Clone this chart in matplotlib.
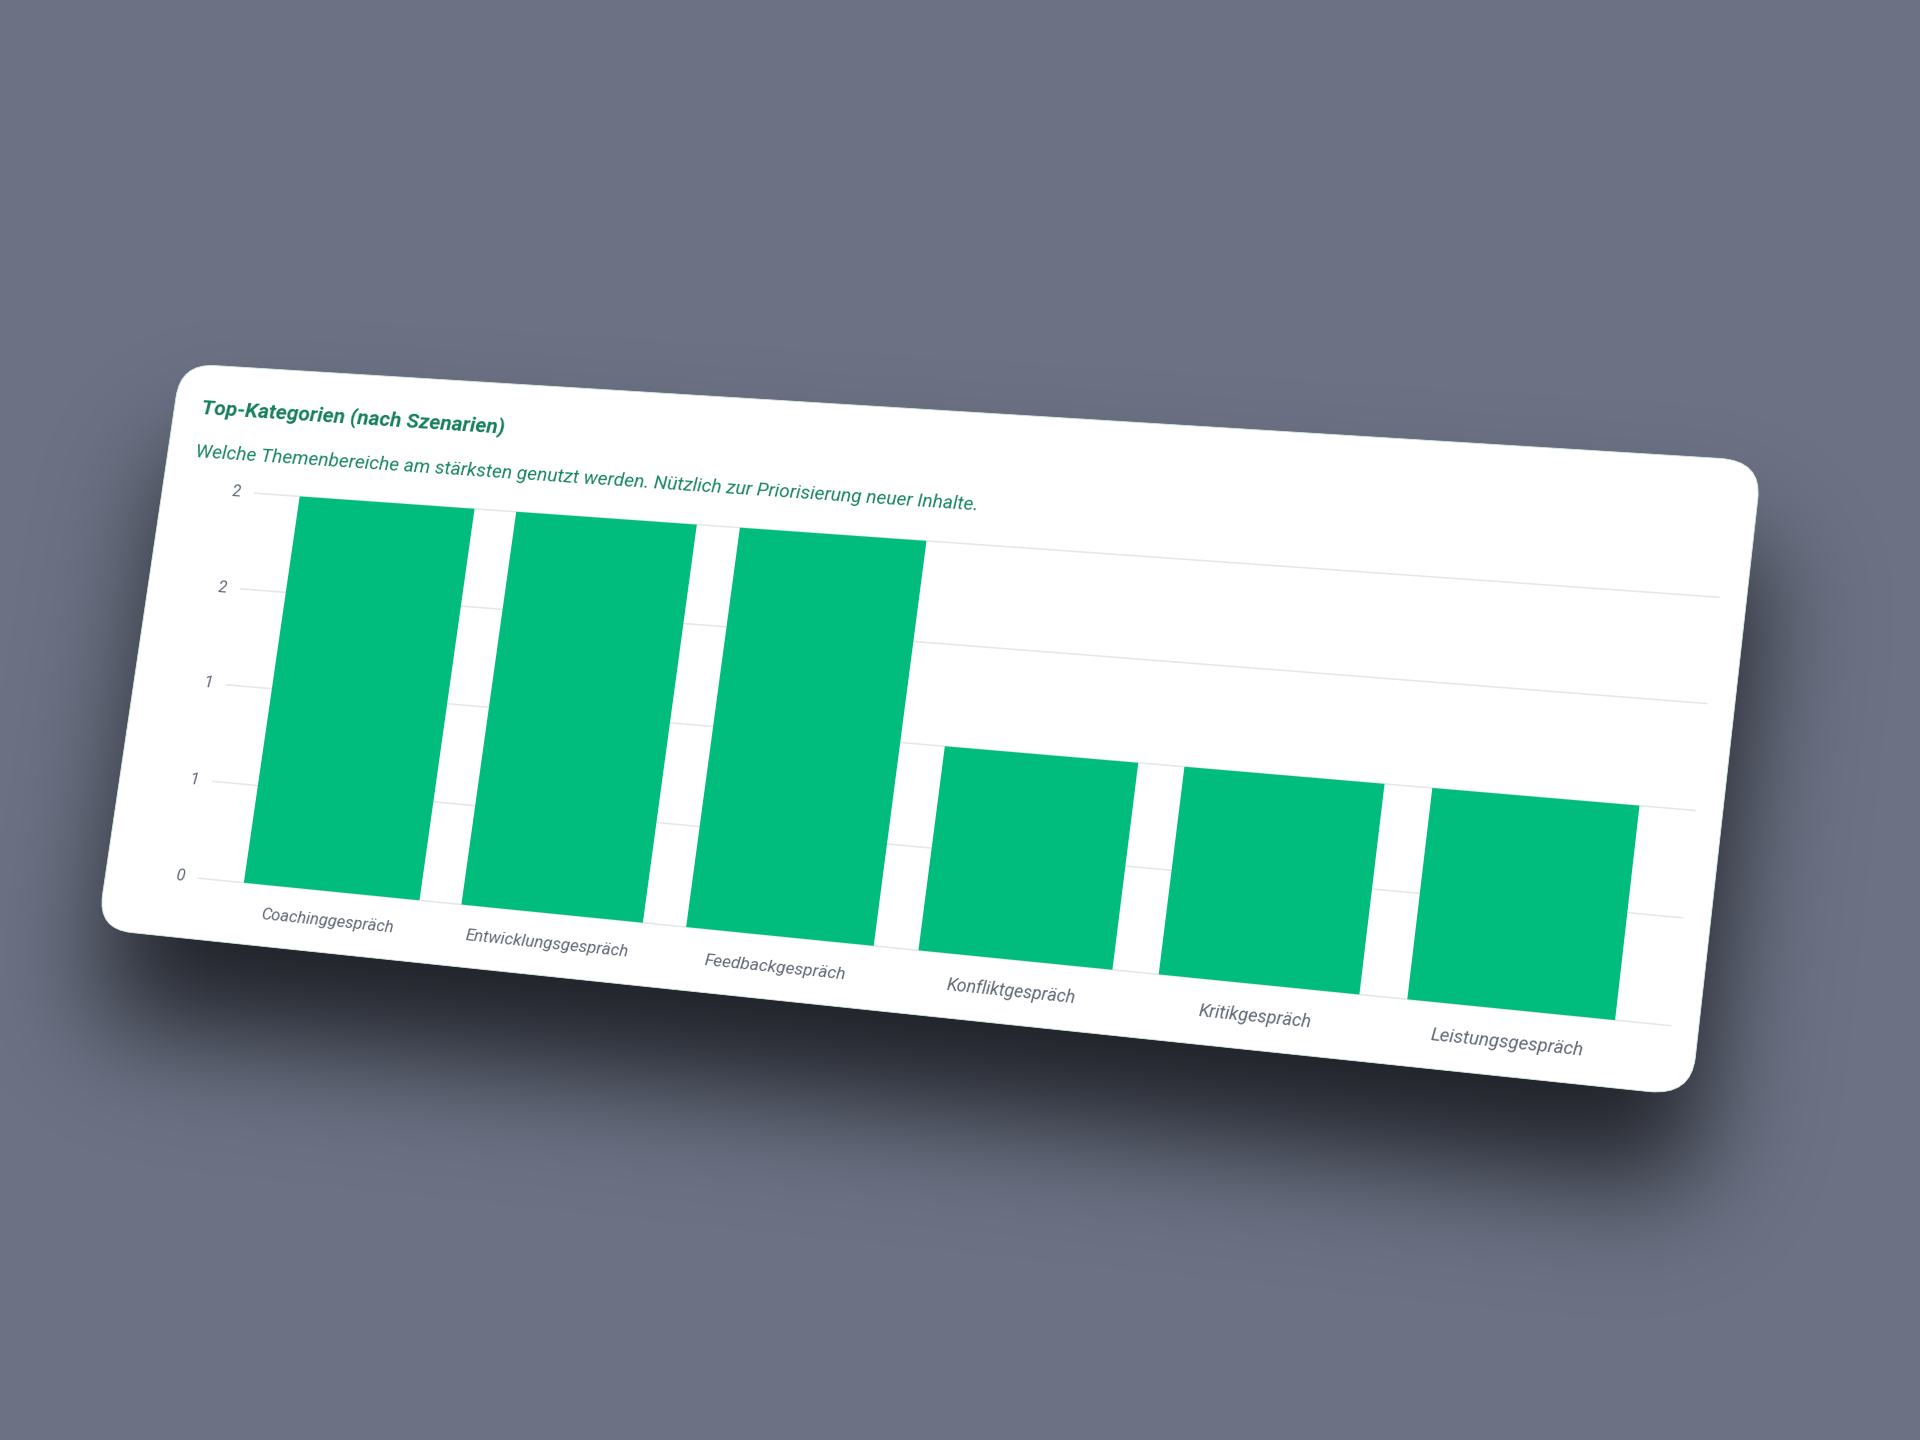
import numpy as np
import matplotlib
matplotlib.use("Agg")
import matplotlib.pyplot as plt
import matplotlib.transforms as mtransforms
from matplotlib.path import Path
from matplotlib.patches import FancyBboxPatch
from matplotlib.colors import to_rgb

# chart data
categories = ["Coachinggespräch", "Entwicklungsgespräch", "Feedbackgespräch",
              "Konfliktgespräch", "Kritikgespräch", "Leistungsgespräch"]
counts = [2, 2, 2, 1, 1, 1]
ytick_values = [0, 0.5, 1, 1.5, 2]
ytick_labels = ["0", "1", "1", "2", "2"]
title = "Top-Kategorien (nach Szenarien)"
subtitle = "Welche Themenbereiche am stärksten genutzt werden. Nützlich zur Priorisierung neuer Inhalte."

# colours
BG = "#6c7284"
GREEN = "#00bd7e"
TITLE_C = "#16805a"
SUB_C = "#1a8660"
GRID_C = "#e3e7ea"
TICK_C = "#626a77"

plt.rcParams["font.family"] = ["Roboto", "DejaVu Sans"]

FIG_W, FIG_H = 1920, 1440
# flat card (pixels, v measured downwards) and plot area inside it
CARD_W, CARD_H = 1500, 600
PLOT_L, PLOT_R, PLOT_T, PLOT_B = 96, 1477, 132, 537
# where the card corners land in the picture (pixels, y down): TL, TR, BR, BL
corners_img = [(181, 363.5), (1762, 461), (1691, 1096), (97.5, 929)]


def homography(src, dst):
    A, b = [], []
    for (x, y), (u, v) in zip(src, dst):
        A.append([x, y, 1, 0, 0, 0, -u * x, -u * y])
        b.append(u)
        A.append([0, 0, 0, x, y, 1, -v * x, -v * y])
        b.append(v)
    h = np.linalg.solve(np.array(A, float), np.array(b, float))
    return np.append(h, 1).reshape(3, 3)


class Perspective(mtransforms.Transform):
    # maps the flat card (display px) onto the tilted card in the picture
    input_dims = output_dims = 2
    is_separable = False

    def __init__(self, M):
        super().__init__()
        self.M = M

    def transform_non_affine(self, values):
        v = np.asarray(values, float).reshape(-1, 2)
        h = np.column_stack([v, np.ones(len(v))]) @ self.M.T
        return h[:, :2] / h[:, 2:3]


src = [(0, CARD_H), (CARD_W, CARD_H), (CARD_W, 0), (0, 0)]
dst = [(x, FIG_H - y) for x, y in corners_img]
P = Perspective(homography(src, dst))
card_tf = mtransforms.Affine2D().scale(1, -1).translate(0, CARD_H)

fig = plt.figure(figsize=(FIG_W / 100, FIG_H / 100), dpi=100)
fig.patch.set_facecolor(BG)

# background layer: shadow + card
bg = fig.add_axes([0, 0, 1, 1])
bg.set_xlim(0, FIG_W)
bg.set_ylim(0, FIG_H)
bg.axis("off")

quad = (card_tf + P).transform([[0, 0], [CARD_W, 0], [CARD_W, CARD_H], [0, CARD_H]])
step = 4
gx = np.arange(0, FIG_W, step) + step / 2
gy = np.arange(0, FIG_H, step) + step / 2
X, Y = np.meshgrid(gx, gy)
shadow_quad = quad + [0, -90]
mask = Path(shadow_quad).contains_points(np.column_stack([X.ravel(), Y.ravel()]))
mask = mask.reshape(X.shape).astype(float)
sigma = 55 / step
k = np.exp(-0.5 * (np.arange(-45, 46) / sigma) ** 2)
k /= k.sum()
blur = np.apply_along_axis(lambda r: np.convolve(r, k, mode="same"), 1, mask)
blur = np.apply_along_axis(lambda c: np.convolve(c, k, mode="same"), 0, blur)
rgba = np.zeros(X.shape + (4,))
rgba[..., :3] = to_rgb("#15171c")
rgba[..., 3] = 0.88 * blur
bg.imshow(rgba, extent=(0, FIG_W, 0, FIG_H), origin="lower",
          interpolation="bilinear", aspect="auto", zorder=1)

card = FancyBboxPatch((0, 0), CARD_W, CARD_H, boxstyle="round,pad=0,rounding_size=36",
                      transform=card_tf + P, fc="white", ec="#d6ece3", lw=0.6, zorder=2)
bg.add_patch(card)

# chart axes laid out on the flat card, then warped
ax = fig.add_axes([PLOT_L / FIG_W, (CARD_H - PLOT_B) / FIG_H,
                   (PLOT_R - PLOT_L) / FIG_W, (PLOT_B - PLOT_T) / FIG_H])
ax.axis("off")
x = np.arange(len(categories))

grid = ax.hlines(ytick_values, -0.62, len(categories) - 1 + 0.62, colors=GRID_C, lw=1.1, zorder=1)
grid.set_transform(ax.transData + P)
grid.set_clip_on(False)

bars = ax.bar(x, counts, width=0.81, color=GREEN, zorder=2)
for r in bars:
    r.set_transform(ax.transData + P)
    r.set_clip_on(False)
ax.set_xlim(-0.62, len(categories) - 1 + 0.62)
ax.set_ylim(0, 2)


def warped_text(px_, py_, s, base, size, **kw):
    q = np.asarray(base.transform((px_, py_)), float)
    p0, p1, p2 = P.transform(np.array([q, q + [1, 0], q + [0, 1]]))
    a, b = p1 - p0, p2 - p0
    ang = np.degrees(np.arctan2(a[1], a[0]))
    scale = np.sqrt(abs(a[0] * b[1] - a[1] * b[0]))
    return ax.text(px_, py_, s, transform=base + P, rotation=ang, rotation_mode="anchor",
                   fontsize=size * scale, clip_on=False, **kw)


warped_text(29, 46, title, card_tf, 16, ha="left", va="center",
            fontweight="semibold", color=TITLE_C, fontstyle="italic")
warped_text(29, 93, subtitle, card_tf, 14.6, ha="left", va="center",
            color=SUB_C, fontstyle="italic")

for v, lab in zip(ytick_values, ytick_labels):
    warped_text(-14 / (PLOT_R - PLOT_L), v, lab, ax.get_yaxis_transform(), 12.2,
                ha="right", va="center", color=TICK_C, fontstyle="italic")

for i, cat in enumerate(categories):
    warped_text(i, -31 / (PLOT_B - PLOT_T), cat, ax.get_xaxis_transform(), 12.1,
                ha="center", va="center", color=TICK_C, fontstyle="italic")

fig.savefig("out.png", dpi=100, facecolor=fig.get_facecolor())
